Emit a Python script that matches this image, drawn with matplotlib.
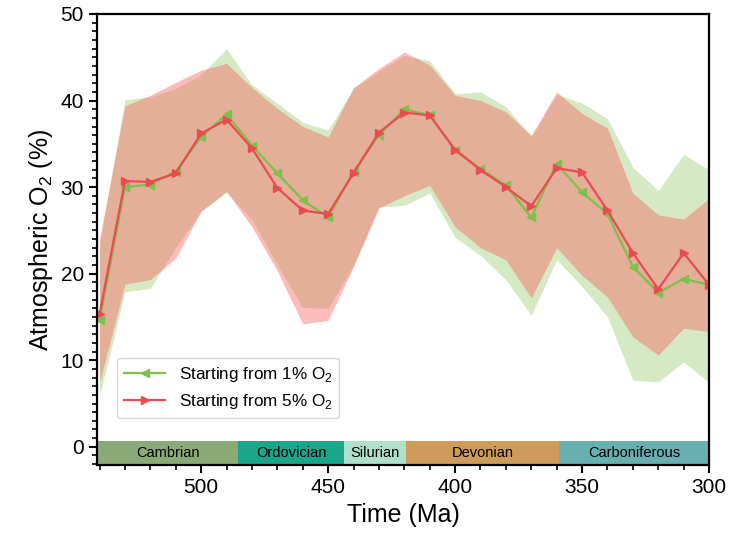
import matplotlib.pyplot as plt
from matplotlib.ticker import MultipleLocator

plt.rcParams['font.family'] = ['Liberation Sans', 'DejaVu Sans']
plt.rcParams['mathtext.fontset'] = 'custom'
plt.rcParams['mathtext.rm'] = 'Liberation Sans'

# time steps (Ma)
time_ma = [540, 530, 520, 510, 500, 490, 480, 470, 460, 450, 440, 430, 420,
           410, 400, 390, 380, 370, 360, 350, 340, 330, 320, 310, 300]

# starting from 1% O2
o2_1pct = [14.6, 30.0, 30.3, 31.8, 35.8, 38.4, 34.8, 31.6, 28.5, 26.5, 31.8, 36.0, 39.0,
           38.3, 34.3, 32.1, 30.2, 26.5, 32.7, 29.4, 26.9, 20.8, 17.8, 19.4, 18.7]
o2_1pct_hi = [23.5, 40.1, 40.4, 41.4, 43.0, 46.0, 41.8, 39.7, 37.5, 36.6, 41.4, 43.4, 45.2,
              44.6, 40.8, 41.0, 39.3, 35.8, 40.7, 39.7, 37.9, 32.3, 29.6, 33.8, 32.0]
o2_1pct_lo = [5.8, 17.9, 18.3, 23.0, 27.2, 29.4, 26.2, 21.0, 16.1, 16.0, 21.0, 27.7, 27.9,
              29.3, 24.2, 22.1, 19.3, 15.2, 21.6, 18.5, 15.0, 7.7, 7.5, 9.8, 7.4]

# starting from 5% O2
o2_5pct = [15.3, 30.7, 30.6, 31.6, 36.2, 37.8, 34.5, 29.9, 27.3, 26.9, 31.6, 36.3, 38.6,
           38.3, 34.3, 32.0, 30.0, 27.8, 32.2, 31.7, 27.3, 22.4, 18.2, 22.4, 18.7]
o2_5pct_hi = [24.0, 39.4, 40.6, 42.1, 43.5, 44.3, 41.5, 39.1, 37.0, 35.8, 41.5, 43.7, 45.6,
              44.1, 40.6, 40.0, 38.7, 36.0, 41.0, 38.5, 36.8, 29.3, 26.8, 26.3, 28.7]
o2_5pct_lo = [7.4, 18.8, 19.3, 21.8, 27.2, 29.5, 25.4, 20.3, 14.2, 14.6, 20.8, 27.6, 29.0,
              30.2, 25.4, 23.0, 21.6, 17.2, 23.0, 19.8, 17.3, 12.7, 10.6, 13.7, 13.3]

# geologic periods
period_names = ["Cambrian", "Ordovician", "Silurian", "Devonian", "Carboniferous"]
period_start = [541, 485.4, 443.8, 419.2, 358.9]
period_end = [485.4, 443.8, 419.2, 358.9, 298.9]
period_colors = ["#8AAA78", "#1AA68A", "#B0DFCB", "#CF9B58", "#67AFB1"]

green = "#7DC04A"
red = "#EC4A52"

fig, ax = plt.subplots(figsize=(7.31, 5.46), dpi=100)
fig.subplots_adjust(left=0.1327, right=0.970, top=0.9744, bottom=0.1484)

# uncertainty bands
ax.fill_between(time_ma, o2_1pct_lo, o2_1pct_hi, color=green, alpha=0.32, lw=0)
ax.fill_between(time_ma, o2_5pct_lo, o2_5pct_hi, color="#F95856", alpha=0.4, lw=0)

# mean lines
ax.plot(time_ma, o2_1pct, color=green, lw=1.6, marker='<', ms=6,
        label="Starting from 1% O$_2$")
ax.plot(time_ma, o2_5pct, color=red, lw=1.6, marker='>', ms=6,
        label="Starting from 5% O$_2$")

# period bar along the bottom
bar_lo, bar_hi = -2.1, 0.7
for name, s, e, c in zip(period_names, period_start, period_end, period_colors):
    ax.fill_between([s, e], bar_lo, bar_hi, color=c, lw=0)
    mid = (s + max(e, 300)) / 2
    ax.text(mid, (bar_lo + bar_hi) / 2, name, ha='center', va='center', fontsize=10.5)

ax.set_xlim(541, 300)
ax.set_ylim(bar_lo, 50)
ax.xaxis.set_major_locator(MultipleLocator(50))
ax.xaxis.set_minor_locator(MultipleLocator(10))
ax.yaxis.set_major_locator(MultipleLocator(10))
ax.yaxis.set_minor_locator(MultipleLocator(1))
ax.tick_params(which='major', length=6, width=1.5, labelsize=15)
ax.tick_params(which='minor', length=3.5, width=1.2)
for sp in ax.spines.values():
    sp.set_linewidth(1.6)

ax.set_xlabel("Time (Ma)", fontsize=18)
ax.set_ylabel("Atmospheric O$_2$ (%)", fontsize=18)

ax.legend(loc='lower left', bbox_to_anchor=(0.033, 0.104), borderaxespad=0,
          fontsize=12.3, handlelength=2.4)

plt.savefig("out.png", dpi=100)
